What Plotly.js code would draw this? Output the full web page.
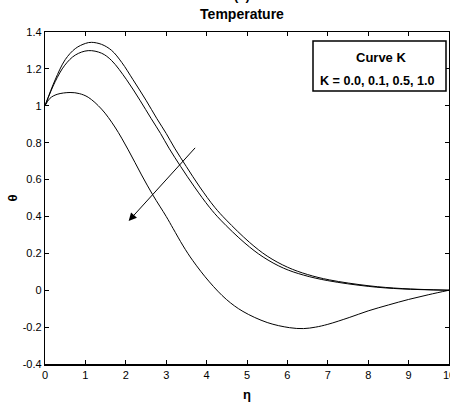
<!DOCTYPE html>
<html>
<head>
<meta charset="utf-8">
<script src="https://cdn.plot.ly/plotly-3.0.1.min.js"></script>
<style>html,body{margin:0;padding:0;background:#fff;}#chart{width:450px;height:404px;}</style>
</head>
<body>
<div id="chart"></div>
<script>
// Curve values
const etaTop = [0, 0.25, 0.5, 0.75, 1.0, 1.15, 1.4, 1.65, 1.9, 2.18, 2.5, 2.77, 3.0, 3.21, 3.5, 3.83, 4.2, 4.49, 5.06, 5.5, 6.0, 6.5, 7.04, 8.02, 8.84, 10];
const thetaTop = [1.0, 1.14, 1.25, 1.31, 1.338, 1.344, 1.333, 1.30, 1.235, 1.141, 1.03, 0.93, 0.85, 0.77, 0.67, 0.56, 0.45, 0.38, 0.26, 0.185, 0.125, 0.085, 0.056, 0.024, 0.009, 0];

const etaMid = [0, 0.25, 0.49, 0.75, 1.07, 1.4, 1.65, 2.02, 2.35, 2.63, 2.86, 3.07, 3.36, 3.7, 4.07, 4.35, 4.95, 5.4, 5.9, 6.4, 7.0, 8.0, 8.84, 10];
const thetaMid = [1.0, 1.13, 1.22, 1.275, 1.299, 1.285, 1.245, 1.141, 1.03, 0.93, 0.85, 0.77, 0.67, 0.56, 0.45, 0.38, 0.255, 0.18, 0.12, 0.082, 0.052, 0.021, 0.007, 0];

const etaLow = [0, 0.12, 0.3, 0.62, 0.85, 1.07, 1.4, 1.73, 2.06, 2.39, 2.67, 3.0, 3.17, 3.42, 3.66, 4.07, 4.49, 4.9, 5.5, 6.05, 6.4, 6.7, 7.0, 7.53, 8.0, 8.5, 9.0, 9.5, 10];
const thetaLow = [1.0, 1.04, 1.062, 1.072, 1.066, 1.046, 0.982, 0.885, 0.761, 0.625, 0.516, 0.40, 0.335, 0.24, 0.16, 0.045, -0.05, -0.115, -0.175, -0.203, -0.208, -0.2, -0.185, -0.148, -0.112, -0.08, -0.05, -0.024, 0];

const xTicks = [0, 1, 2, 3, 4, 5, 6, 7, 8, 9, 10];
const yTicks = [-0.4, -0.2, 0, 0.2, 0.4, 0.6, 0.8, 1, 1.2, 1.4];
const yTickText = ['-0.4', '-0.2', '0', '0.2', '0.4', '0.6', '0.8', '1', '1.2', '1.4'];

const legendLine1 = 'Curve K';
const legendLine2 = 'K = 0.0, 0.1, 0.5, 1.0';
const arrowTail = [3.75, 0.78];
const arrowHead = [2.07, 0.375];

const lineStyle = {color: '#000', width: 1, shape: 'spline', smoothing: 1};
const traces = [
  {x: etaTop, y: thetaTop, mode: 'lines', line: lineStyle, name: 'K = 0.0', hoverinfo: 'skip'},
  {x: etaMid, y: thetaMid, mode: 'lines', line: lineStyle, name: 'K = 0.5', hoverinfo: 'skip'},
  {x: etaLow, y: thetaLow, mode: 'lines', line: lineStyle, name: 'K = 1.0', hoverinfo: 'skip'}
];

const tickFont = {family: 'Liberation Sans, Arial, sans-serif', size: 11, color: '#000'};
const boldFont = {family: 'Liberation Sans, Arial, sans-serif', size: 13, color: '#000'};

const layout = {
  width: 450, height: 404,
  margin: {l: 45, r: 1, t: 32, b: 40, pad: 0},
  paper_bgcolor: '#fff', plot_bgcolor: '#fff',
  showlegend: false,
  title: {text: '<b>Temperature</b>', font: {family: 'Liberation Sans, Arial, sans-serif', size: 14, color: '#000'},
          xref: 'container', yref: 'container',
          x: 242 / 450, xanchor: 'center', y: 1 - 14 / 404, yanchor: 'middle'},
  xaxis: {
    range: [0, 10], tickvals: xTicks, ticktext: xTicks.map(String),
    ticks: 'inside', ticklen: 4, tickwidth: 1, tickcolor: '#000',
    showline: true, linecolor: '#000', linewidth: 1.5, mirror: 'ticks',
    showgrid: false, zeroline: false, tickfont: tickFont, ticklabeloverflow: 'allow',
    title: {text: '<b>η</b>', font: {family: 'Liberation Sans, Arial, sans-serif', size: 13, color: '#000'}, standoff: 10}
  },
  yaxis: {
    range: [-0.4, 1.4], tickvals: yTicks, ticktext: yTickText,
    ticks: 'inside', ticklen: 4, tickwidth: 1, tickcolor: '#000',
    showline: true, linecolor: '#000', linewidth: 1.2, mirror: 'ticks',
    showgrid: false, zeroline: false, tickfont: tickFont,
    title: {text: '<b>θ</b>', font: {family: 'Liberation Sans, Arial, sans-serif', size: 13, color: '#000'}, standoff: 2}
  },
  shapes: [
    {type: 'rect', xref: 'paper', yref: 'paper',
     x0: (313 - 45) / 404, x1: (446 - 45) / 404, y0: (364 - 91) / 332, y1: (364 - 41) / 332,
     line: {color: '#000', width: 1.5}, fillcolor: '#fff', layer: 'above'}
  ],
  annotations: [
    {text: '<b>(a)</b>', xref: 'paper', yref: 'paper', x: (242 - 45) / 404, y: 1, xanchor: 'center', yanchor: 'middle',
     yshift: 37, showarrow: false, font: boldFont},
    {text: '<b>' + legendLine1 + '</b>', xref: 'paper', yref: 'paper', x: (381 - 45) / 404, y: (364 - 57) / 332,
     xanchor: 'center', yanchor: 'middle', showarrow: false, font: boldFont},
    {text: '<b>' + legendLine2 + '</b>', xref: 'paper', yref: 'paper', x: (377 - 45) / 404, y: (364 - 81) / 332,
     xanchor: 'center', yanchor: 'middle', showarrow: false, font: {family: 'Liberation Sans, Arial, sans-serif', size: 12.6, color: '#000'}},
    {x: arrowHead[0], y: arrowHead[1], ax: arrowTail[0], ay: arrowTail[1], xref: 'x', yref: 'y', axref: 'x', ayref: 'y',
     text: '', showarrow: true, arrowhead: 2, arrowsize: 1.6, arrowwidth: 1, arrowcolor: '#000'}
  ]
};

Plotly.newPlot('chart', traces, layout, {staticPlot: true, displayModeBar: false});
</script>
</body>
</html>
